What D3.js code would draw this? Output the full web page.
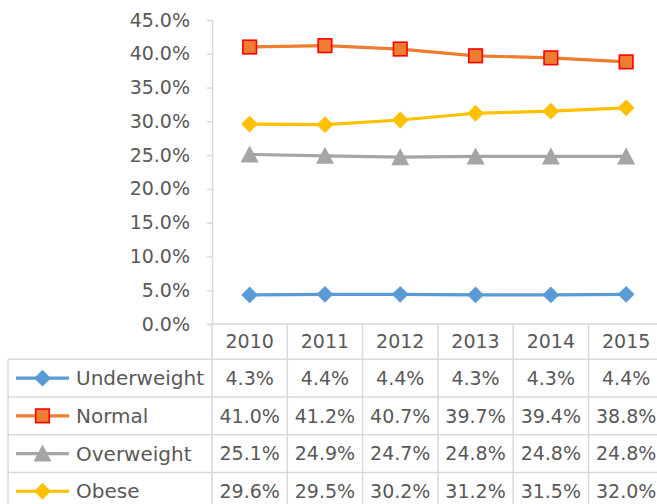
<!DOCTYPE html>
<html><head><meta charset="utf-8">
<script src="https://cdn.jsdelivr.net/npm/d3@7"></script>
<style>body{margin:0;background:#fff}svg{display:block}text{font-family:"DejaVu Sans",sans-serif;fill:#595959}</style>
</head><body>
<svg id="c" width="657" height="504"></svg>
<script>
const years = ["2010","2011","2012","2013","2014","2015"];
const seriesNames = ["Underweight","Normal","Overweight","Obese"];
const underweight = [4.3,4.4,4.4,4.3,4.3,4.4];
const normal = [41.0,41.2,40.7,39.7,39.4,38.8];
const overweight = [25.1,24.9,24.7,24.8,24.8,24.8];
const obese = [29.6,29.5,30.2,31.2,31.5,32.0];
const yTicks = [0,5,10,15,20,25,30,35,40,45];
const colors = ["#5B9BD5","#ED7D31","#A5A5A5","#FFC000"];
const markers = ["diamond","square","triangle","diamond"];

const series = seriesNames.map((n,i)=>({name:n, values:[underweight,normal,overweight,obese][i], color:colors[i], marker:markers[i]}));

const svg = d3.select("#c");
const pLeft = 212, pRight = 663.8, pTop = 20, pBottom = 324;
const headerH = 35.3, rowH = 37.7, tableLeft = 8;
const x = d3.scaleBand().domain(years).range([pLeft,pRight]);
const y = d3.scaleLinear().domain([0,45]).range([pBottom,pTop]);
const grid = "#D9D9D9";

// y axis
const ax = svg.append("g").attr("transform",`translate(${pLeft},0)`)
  .call(d3.axisLeft(y).tickValues(yTicks).tickSize(5).tickPadding(17).tickFormat(d=>d.toFixed(1)+"%"));
ax.attr("font-family",null).attr("font-size",null);
ax.select(".domain").attr("stroke",grid).attr("stroke-width",1.5);
ax.selectAll(".tick line").attr("stroke",grid).attr("stroke-width",1.5);
ax.selectAll(".tick text").attr("font-size",19).attr("fill","#595959");

// table grid
const tg = svg.append("g").attr("stroke",grid).attr("stroke-width",1.5).attr("fill","none");
const tBottom = pBottom + headerH + rowH*4;
tg.append("line").attr("x1",pLeft).attr("x2",657).attr("y1",pBottom).attr("y2",pBottom);
for(let r=0;r<=4;r++){
  const yy = pBottom+headerH+r*rowH;
  tg.append("line").attr("x1",tableLeft).attr("x2",657).attr("y1",yy).attr("y2",yy);
}
tg.append("line").attr("x1",tableLeft).attr("x2",tableLeft).attr("y1",pBottom+headerH).attr("y2",tBottom);
years.forEach((yr,i)=>{
  const xx = x(yr)+x.bandwidth();
  tg.append("line").attr("x1",xx).attr("x2",xx).attr("y1",pBottom).attr("y2",tBottom);
});
tg.append("line").attr("x1",pLeft).attr("x2",pLeft).attr("y1",pBottom).attr("y2",tBottom);

// header labels
svg.append("g").selectAll("text").data(years).join("text")
  .attr("x",d=>x(d)+x.bandwidth()/2).attr("y",pBottom+headerH/2).attr("dy","0.35em")
  .attr("text-anchor","middle").attr("font-size",19).text(d=>d);

function drawMarker(g, type, cx, cy, color){
  if(type==="diamond"){
    const h = 8.4;
    g.append("path").attr("d",`M${cx},${cy-h}L${cx+h},${cy}L${cx},${cy+h}L${cx-h},${cy}Z`).attr("fill",color);
  } else if(type==="square"){
    g.append("rect").attr("x",cx-6.8).attr("y",cy-6.8).attr("width",13.6).attr("height",13.6)
      .attr("fill",color).attr("stroke","#FF0000").attr("stroke-width",1.6);
  } else {
    g.append("path").attr("d",`M${cx},${cy-9}L${cx+9},${cy+8}L${cx-9},${cy+8}Z`).attr("fill",color);
  }
}

const line = d3.line().x((d,i)=>x(years[i])+x.bandwidth()/2).y(d=>y(d));
series.forEach((s,si)=>{
  const g = svg.append("g");
  g.append("path").attr("d",line(s.values)).attr("fill","none").attr("stroke",s.color).attr("stroke-width",3.2).attr("stroke-linejoin","round");
  s.values.forEach((v,i)=>drawMarker(g,s.marker,x(years[i])+x.bandwidth()/2,y(v),s.color));
  const cy = pBottom+headerH+si*rowH+rowH/2;
  const lg = svg.append("g");
  lg.append("line").attr("x1",16).attr("x2",69).attr("y1",cy).attr("y2",cy).attr("stroke",s.color).attr("stroke-width",3.2);
  drawMarker(lg,s.marker,42.5,cy,s.color);
  lg.append("text").attr("x",76).attr("y",cy).attr("dy","0.35em").attr("font-size",20).text(s.name);
  svg.append("g").selectAll("text").data(s.values).join("text")
    .attr("x",(d,i)=>x(years[i])+x.bandwidth()/2).attr("y",cy).attr("dy","0.35em")
    .attr("text-anchor","middle").attr("font-size",19).text(d=>d.toFixed(1)+"%");
});
</script>
</body></html>
